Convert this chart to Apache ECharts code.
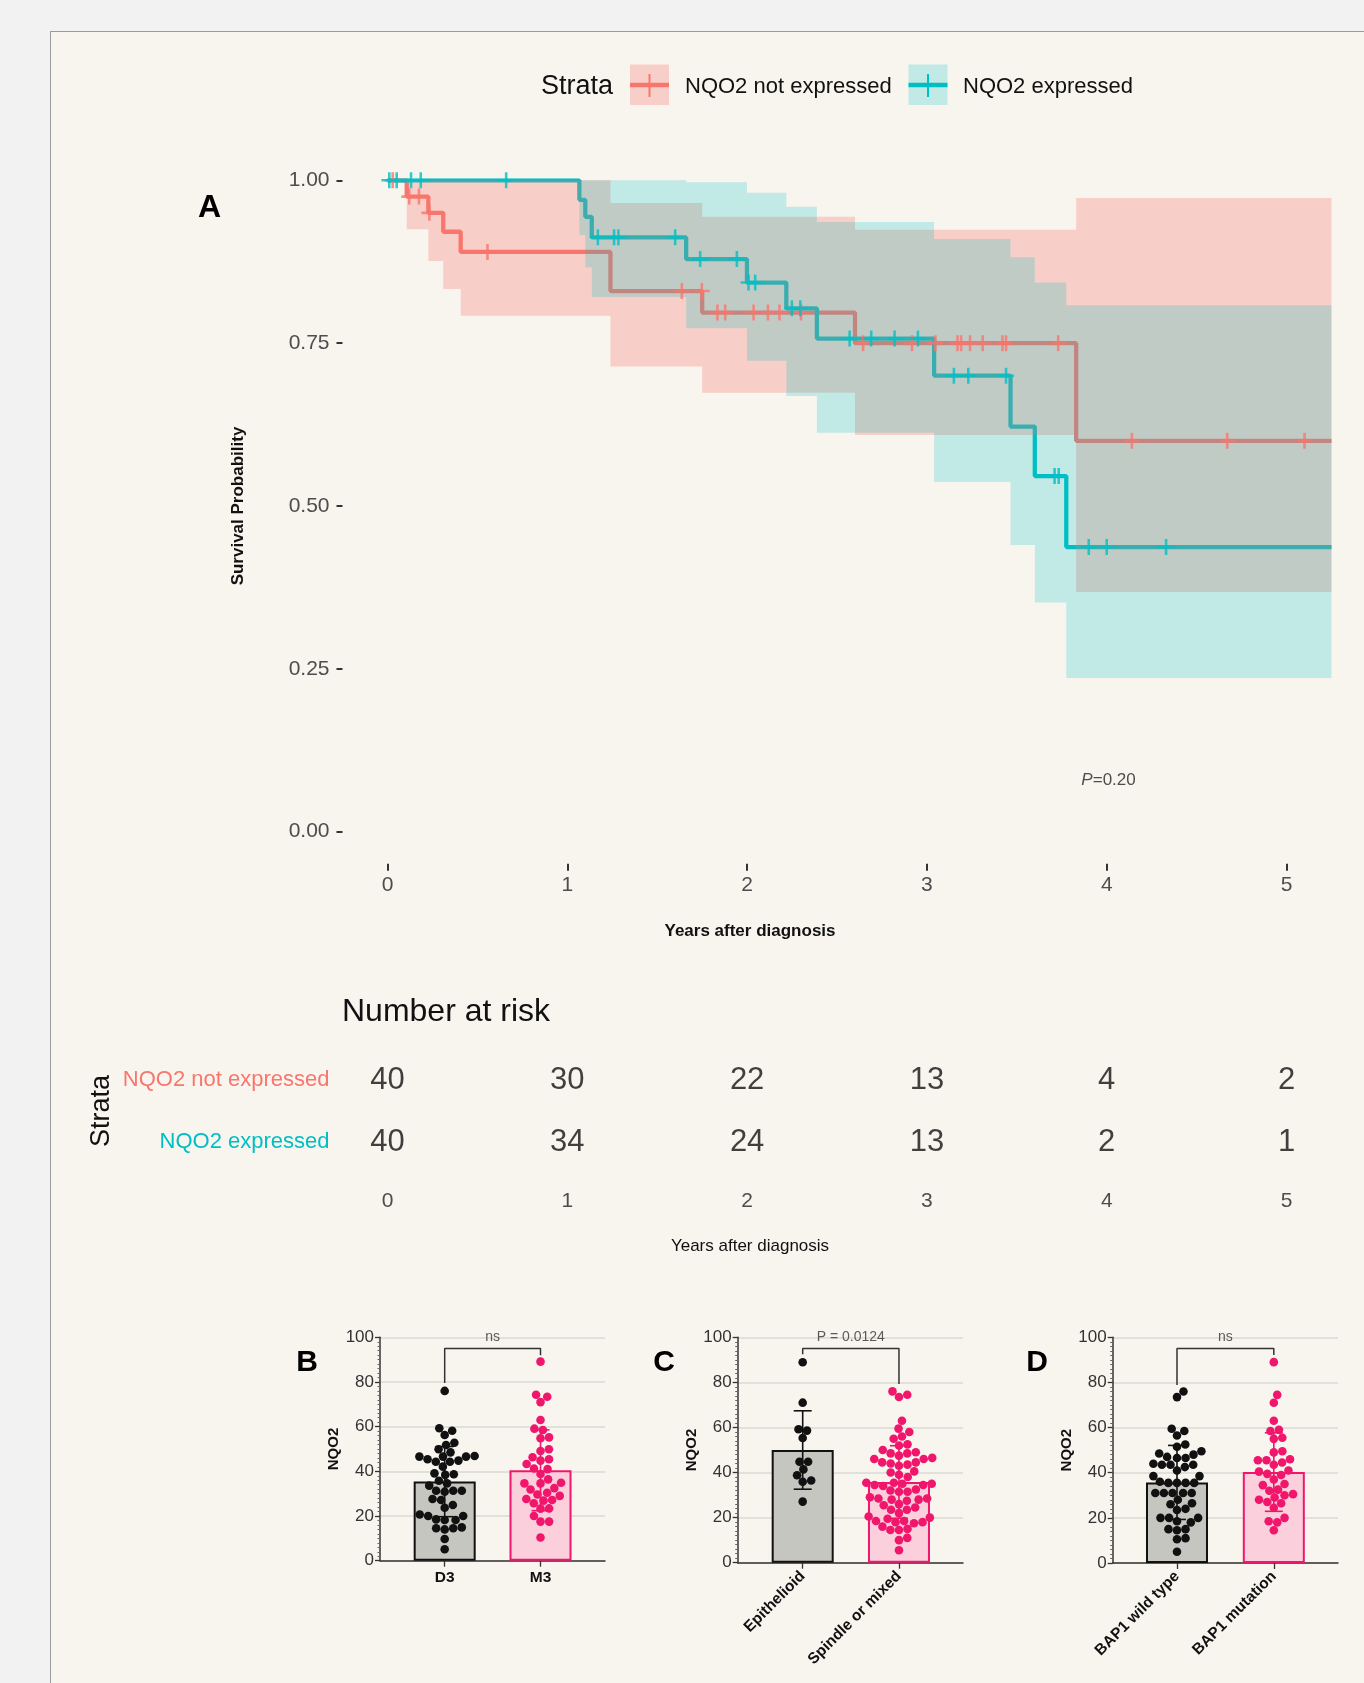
<!DOCTYPE html>
<html><head><meta charset="utf-8">
<script src="https://cdn.jsdelivr.net/npm/echarts@6/dist/echarts.min.js"></script>
<style>
html,body{margin:0;padding:0;background:#f2f2f2;width:1364px;height:1683px;overflow:hidden;}
#panel{position:absolute;left:50px;top:31px;width:1314px;height:1652px;background:#f8f5ef;border-left:1px solid #9c9c9c;border-top:1px solid #9c9c9c;box-sizing:border-box;}
#chart{position:absolute;left:0;top:0;width:1364px;height:1683px;}
</style></head><body><div id="panel"></div><div id="chart"></div>
<script>
// ---------------- DATA ----------------
const timeTicks = [0, 1, 2, 3, 4, 5];
const survTicks = [0, 0.25, 0.5, 0.75, 1];
const strata = ['NQO2 not expressed', 'NQO2 expressed'];
// Kaplan-Meier steps [time, survival]
const kmNotExpr = [[0,1],[0.107,0.975],[0.227,0.95],[0.31,0.921],[0.407,0.89],[1.24,0.83],[1.75,0.797],[2.6,0.75],[3.83,0.60],[5.25,0.60]];
const kmExpr = [[0,1],[1.067,0.97],[1.1,0.944],[1.136,0.9125],[1.661,0.879],[1.999,0.843],[2.218,0.8035],[2.388,0.757],[3.04,0.70],[3.465,0.622],[3.6,0.546],[3.775,0.437],[5.25,0.437]];
// censoring times
const censorNotExpr = [0.029,0.121,0.175,0.233,0.556,1.637,1.748,1.835,1.878,2.036,2.116,2.18,2.30,2.645,2.917,3.047,3.17,3.19,3.24,3.31,3.42,3.44,3.73,4.14,4.67,5.10];
const censorExpr = [0.01,0.051,0.131,0.185,0.66,1.17,1.26,1.284,1.60,1.739,1.943,2.008,2.045,2.249,2.296,2.57,2.69,2.82,2.95,3.15,3.23,3.44,3.71,3.733,3.90,4.0,4.33];
// confidence bands [start time, lower, upper]
const ciNotExpr = [[0.107,0.925,1],[0.227,0.876,1],[0.31,0.833,1],[0.407,0.792,1],[1.24,0.714,0.965],[1.75,0.674,0.944],[2.6,0.609,0.924],[3.83,0.368,0.973]];
const ciExpr = [[1.067,0.916,1],[1.1,0.866,1],[1.136,0.821,1],[1.661,0.773,0.997],[1.999,0.723,0.981],[2.218,0.669,0.9595],[2.388,0.6125,0.936],[3.04,0.537,0.910],[3.465,0.44,0.882],[3.6,0.352,0.843],[3.775,0.236,0.808]];
const followUpEnd = 5.25;
// number at risk
const riskNotExpr = [40, 30, 22, 13, 4, 2];
const riskExpr = [40, 34, 24, 13, 2, 1];
const pValueA = 'P=0.20';

// Panel B
const groupsB = ['D3', 'M3'];
const meanB = [35.4, 40.5];
const sdB = [15.7, 18.1];
const dotsD3 = [76,59.3,58.2,56.3,52.8,51.8,48.5,49.9,46.9,45.4,44.3,44.3,44.8,46.6,46.6,46.6,42.1,38.7,39.1,38.4,34.6,33.6,35.8,31.3,31.3,31.3,27.2,27.6,30.9,24.9,23.7,18.5,20,20,20.7,18.2,18.2,14.5,14,14.5,14.9,9.7,5.1];
const dotsM3 = [89.1,73.4,74.3,71,63,58.5,59.1,54.8,55.2,49.1,49.9,43.3,44.8,46.3,45.4,38.8,41.3,41,32.5,34.6,34.9,36.4,34.6,27.6,29,29.6,30.4,31.9,26.9,27.2,23.4,23.3,25.7,20,17.5,17.5,10.4];
const testB = 'ns';
// Panel C
const groupsC = ['Epithelioid', 'Spindle or mixed'];
const meanC = [50.0, 35.8];
const sdC = [17.4, 16.1];
const dotsEpith = [88.9,71,58.6,59.2,55.3,44.8,44.8,41.4,38.8,35.9,36.5,27.1];
const dotsSpindle = [76,74.5,73.5,63,59.5,58,56,55,52.5,52,50,49,48.5,47.5,48.5,46.5,46,44.5,44,43.5,46,44.5,43,40.5,40,38,39,35.5,35,34.5,35,34.5,35.5,34,32,31.5,31.5,32.5,29,28.5,28,27.5,28,28.5,26,25.5,24.5,23.5,23.5,22,20,20.5,19.5,18.5,18.5,18,17.5,18,16,15,14.5,14.5,11,10,5.5];
const testC = 'P = 0.0124';
// Panel D
const groupsD = ['BAP1 wild type', 'BAP1 mutation'];
const meanD = [35.7, 40.3];
const sdD = [16.4, 17.4];
const dotsWT = [76,73.5,59.5,58.5,56.5,52.5,51.5,49.5,48.5,48,47,46.5,46.5,43.5,43.5,44,43.5,42.5,41,38.5,38.5,36,35.5,35.5,35.5,35.5,31,31,31,31,31,28,26,26.5,24,23.5,18.5,20,20,20,18,15,14.5,15,10.5,11,5];
const dotsMut = [89,74.5,71,63,59,58.5,55.5,55,49.5,49,45.5,44.5,45.5,43.5,46,39,40.5,41,39.5,34.5,37,35,32.5,30.5,32,29,26.5,28,30,27,24.5,20,18,18.5,14.5];
const testD = 'ns';
const nqoTicks = [0, 20, 40, 60, 80, 100];

// ---------------- STYLE ----------------
const FONT = '"Liberation Sans", Arial, Helvetica, sans-serif';
const RED = '#F8766D', TEAL = '#00BFC4';
const RED_BAND = 'rgba(248,118,109,0.30)', TEAL_BAND = 'rgba(0,191,196,0.22)';
const PINK = '#f0166c', PINKFILL = '#fbd0dc', GREYFILL = '#c6c6c1', BLACK = '#111111';
const PLUS = 'path://M6.7,0h2.6v6.7h6.7v2.6h-6.7v6.7h-2.6v-6.7h-6.7v-2.6h6.7z';

function stepAt(km, t) { let s = km[0][1]; for (const p of km) { if (p[0] <= t) s = p[1]; else break; } return s; }
function bandPolygon(ci, end) {
  const up = [], lo = [];
  for (let i = 0; i < ci.length; i++) {
    const t0 = ci[i][0], t1 = i + 1 < ci.length ? ci[i + 1][0] : end;
    up.push([t0, ci[i][2]], [t1, ci[i][2]]);
    lo.push([t0, ci[i][1]], [t1, ci[i][1]]);
  }
  return up.concat(lo.reverse());
}
function swarm(values, pxPerX, pxPerY, diam) {
  const idx = values.map((v, i) => i).sort((a, b) => values[a] - values[b]);
  const placed = [], out = new Array(values.length);
  for (const i of idx) {
    const y = values[i] * pxPerY;
    const cands = [0];
    for (const p of placed) {
      const dy = Math.abs(p.y - y);
      if (dy < diam) { const dx = Math.sqrt(diam * diam - dy * dy); cands.push(p.x + dx, p.x - dx); }
    }
    cands.sort((a, b) => Math.abs(a) - Math.abs(b));
    let best = 0;
    for (const c of cands) {
      if (placed.every(p => (p.x - c) * (p.x - c) + (p.y - y) * (p.y - y) >= diam * diam - 1e-6)) { best = c; break; }
    }
    placed.push({ x: best, y: y });
    out[i] = best / pxPerX;
  }
  return out;
}

const chart = echarts.init(document.getElementById('chart'));
const grids = [], xAxes = [], yAxes = [], series = [];
function hiddenAxis(gi, type, min, max) { return { gridIndex: gi, type: type, min: min, max: max, show: false }; }

// ---- Panel A: KM plot area (grid 0) ----
const A = { left: 387.5, top: 180.3, width: 944, height: 651.4 };
grids.push(A);
xAxes.push(hiddenAxis(0, 'value', 0, followUpEnd));
yAxes.push(hiddenAxis(0, 'value', 0, 1));
// y-axis ticks/labels, set apart from the panel (grid 1)
grids.push({ left: A.left - 45, top: A.top, width: A.width + 45, height: A.height });
xAxes.push(hiddenAxis(1, 'value', 0, 1));
yAxes.push({ gridIndex: 1, type: 'value', min: 0, max: 1, interval: 0.25,
  axisLine: { show: false }, splitLine: { show: false },
  axisTick: { show: true, length: 6, lineStyle: { color: '#333', width: 2 } },
  axisLabel: { margin: 13, fontSize: 21, color: '#4d4d4d', fontFamily: FONT, formatter: v => v.toFixed(2) } });
// x-axis ticks/labels, set apart below the panel (grid 2)
grids.push({ left: A.left, top: A.top + 32, width: A.width, height: A.height });
xAxes.push({ gridIndex: 2, type: 'value', min: 0, max: followUpEnd,
  axisLine: { show: false }, splitLine: { show: false },
  axisTick: { show: true, length: 7, customValues: timeTicks, lineStyle: { color: '#333', width: 2 } },
  axisLabel: { customValues: timeTicks, margin: 11, fontSize: 21, color: '#4d4d4d', fontFamily: FONT } });
yAxes.push(hiddenAxis(2, 'value', 0, 1));

[[kmNotExpr, RED], [kmExpr, TEAL]].forEach(([km, col]) => {
  series.push({ type: 'line', xAxisIndex: 0, yAxisIndex: 0, step: 'end', data: km, symbol: 'none', z: 2,
    lineStyle: { color: col, width: 4.3 }, silent: true, animation: false });
});
[[ciNotExpr, RED_BAND], [ciExpr, TEAL_BAND]].forEach(([ci, fill]) => {
  const poly = bandPolygon(ci, followUpEnd);
  series.push({ type: 'custom', xAxisIndex: 0, yAxisIndex: 0, z: 3, silent: true, data: [[0, 0]], animation: false,
    renderItem: (params, api) => ({ type: 'polygon', shape: { points: poly.map(p => api.coord(p)) }, style: { fill: fill } }) });
});
[[censorNotExpr, kmNotExpr, RED], [censorExpr, kmExpr, TEAL]].forEach(([cens, km, col]) => {
  series.push({ type: 'scatter', xAxisIndex: 0, yAxisIndex: 0, z: 5, clip: false, silent: true, animation: false,
    data: cens.map(t => [t, stepAt(km, t)]), symbol: PLUS, symbolSize: 16, itemStyle: { color: col } });
});
series.push({ type: 'scatter', xAxisIndex: 0, yAxisIndex: 0, z: 6, clip: false, silent: true, animation: false,
  data: [[4.01, 0.079]], symbolSize: 1, itemStyle: { color: 'transparent' },
  label: { show: true, position: 'inside', formatter: '{i|P}{n|' + pValueA.slice(1) + '}',
    rich: { i: { fontStyle: 'italic', fontSize: 17, fontFamily: FONT, color: '#222' }, n: { fontSize: 17, fontFamily: FONT, color: '#222' } } } });

// ---- Risk table (grid 3) ----
grids.push({ left: A.left, top: 1049, width: A.width, height: 124 });
xAxes.push({ gridIndex: 3, type: 'value', min: 0, max: followUpEnd,
  axisLine: { show: false }, splitLine: { show: false }, axisTick: { show: false },
  axisLabel: { customValues: timeTicks, margin: 18, fontSize: 21, color: '#4d4d4d', fontFamily: FONT } });
yAxes.push({ gridIndex: 3, type: 'category', data: strata, inverse: true,
  axisLine: { show: false }, axisTick: { show: false }, splitLine: { show: false },
  axisLabel: { margin: 58, formatter: v => (v === strata[0] ? '{r|' + v + '}' : '{t|' + v + '}'),
    rich: { r: { color: RED, fontSize: 22, fontFamily: FONT }, t: { color: TEAL, fontSize: 22, fontFamily: FONT } } } });
[[riskNotExpr, strata[0]], [riskExpr, strata[1]]].forEach(([risk, name]) => {
  series.push({ type: 'scatter', xAxisIndex: 3, yAxisIndex: 3, clip: false, silent: true, animation: false,
    data: risk.map((n, i) => [timeTicks[i], name, n]), symbolSize: 1, itemStyle: { color: 'transparent' },
    label: { show: true, position: 'inside', formatter: p => String(p.value[2]), fontSize: 31, color: '#111', fontFamily: FONT } });
});

// ---- Panels B, C, D (grids 4-6) ----
const panels = [
  { left: 380, top: 1337.3, width: 225, height: 223.4, min: -0.675, max: 1.673, groups: groupsB, mean: meanB, sd: sdB, dots: [dotsD3, dotsM3], test: testB, bracket: [[0, 79.5], [0, 95], [1, 95], [1, 92]], rotate: 0 },
  { left: 737.7, top: 1337.3, width: 225.3, height: 225.4, min: -0.675, max: 1.665, groups: groupsC, mean: meanC, sd: sdC, dots: [dotsEpith, dotsSpindle], test: testC, bracket: [[0, 92.5], [0, 95], [1, 95], [1, 79.3]], rotate: 45 },
  { left: 1112.7, top: 1337.3, width: 225.3, height: 225.7, min: -0.664, max: 1.663, groups: groupsD, mean: meanD, sd: sdD, dots: [dotsWT, dotsMut], test: testD, bracket: [[0, 78.9], [0, 95], [1, 95], [1, 92.2]], rotate: 45 }
];
panels.forEach((pn, k) => {
  const gi = grids.length;
  grids.push({ left: pn.left, top: pn.top, width: pn.width, height: pn.height });
  xAxes.push({ gridIndex: gi, type: 'value', min: pn.min, max: pn.max,
    axisLine: { show: true, onZero: false, lineStyle: { color: '#333', width: 1.5 } }, splitLine: { show: false },
    axisTick: { show: true, length: 6, customValues: [0, 1], lineStyle: { color: '#333', width: 1.3 } },
    axisLabel: { customValues: [0, 1], formatter: v => pn.groups[Math.round(v)], rotate: pn.rotate, margin: pn.rotate ? 11 : 9,
      fontSize: 15.5, fontWeight: 'bold', color: '#111', fontFamily: FONT } });
  yAxes.push({ gridIndex: gi, type: 'value', min: 0, max: 100, interval: 20,
    name: 'NQO2', nameLocation: 'middle', nameGap: 36, nameTextStyle: { fontSize: 15, fontWeight: 'bold', color: '#111', fontFamily: FONT },
    axisLine: { show: true, onZero: false, lineStyle: { color: '#333', width: 1.5 } },
    axisTick: { show: true, length: 5, lineStyle: { color: '#333', width: 1.3 } },
    minorTick: { show: true, splitNumber: 10, length: 2.5, lineStyle: { color: '#666', width: 1 } },
    splitLine: { show: true, lineStyle: { color: '#d9d9d6', width: 1.5 } },
    axisLabel: { customValues: nqoTicks, margin: 6, fontSize: 17, color: '#333', fontFamily: FONT } });
  const cols = [BLACK, PINK], fills = [GREYFILL, PINKFILL];
  series.push({ type: 'bar', xAxisIndex: gi, yAxisIndex: gi, barWidth: 62, z: 2, silent: true, animation: false,
    data: pn.mean.map((m, i) => ({ value: [i, m], itemStyle: { color: fills[i], borderColor: cols[i], borderWidth: 2 } })) });
  series.push({ type: 'custom', xAxisIndex: gi, yAxisIndex: gi, z: 3, silent: true, animation: false,
    data: pn.mean.map((m, i) => [i, m - pn.sd[i], m + pn.sd[i]]),
    renderItem: (params, api) => {
      const x = api.value(0), a = api.coord([x, api.value(1)]), b = api.coord([x, api.value(2)]);
      const st = { stroke: cols[params.dataIndex], lineWidth: 1.6 }, w = 9;
      return { type: 'group', children: [
        { type: 'line', shape: { x1: a[0], y1: a[1], x2: b[0], y2: b[1] }, style: st },
        { type: 'line', shape: { x1: a[0] - w, y1: a[1], x2: a[0] + w, y2: a[1] }, style: st },
        { type: 'line', shape: { x1: b[0] - w, y1: b[1], x2: b[0] + w, y2: b[1] }, style: st }] };
    } });
  const pxX = pn.width / (pn.max - pn.min), pxY = pn.height / 100;
  pn.dots.forEach((vals, g) => {
    const off = swarm(vals, pxX, pxY, 8.6);
    series.push({ type: 'scatter', xAxisIndex: gi, yAxisIndex: gi, z: 4, clip: false, silent: true, animation: false,
      data: vals.map((v, i) => [g + off[i], v]), symbolSize: 8.6, itemStyle: { color: cols[g], opacity: 1 } });
  });
  series.push({ type: 'line', xAxisIndex: gi, yAxisIndex: gi, z: 3, data: pn.bracket, symbol: 'none', silent: true, animation: false,
    lineStyle: { color: '#333', width: 1.5 } });
  series.push({ type: 'scatter', xAxisIndex: gi, yAxisIndex: gi, z: 6, clip: false, silent: true, animation: false,
    data: [[0.5, 100]], symbolSize: 1, itemStyle: { color: 'transparent' },
    label: { show: true, position: 'inside', formatter: pn.test, fontSize: 14, color: '#333', fontFamily: FONT } });
});

// ---- texts & legend ----
function txt(text, x, y, size, opts) {
  opts = opts || {};
  return { type: 'text', x: x, y: y, rotation: opts.rot || 0, z: 100,
    style: { text: text, fontSize: size, fontFamily: FONT, fontWeight: opts.bold ? 'bold' : 'normal', fill: opts.color || '#111',
      align: opts.align || 'center', textAlign: opts.align || 'center', verticalAlign: 'middle', textVerticalAlign: 'middle' } };
}
function legendKey(x, fill, col) {
  return [
    { type: 'rect', shape: { x: x, y: 64.5, width: 39, height: 40.5 }, style: { fill: fill }, z: 100 },
    { type: 'line', shape: { x1: x, y1: 85, x2: x + 39, y2: 85 }, style: { stroke: col, lineWidth: 4.5 }, z: 101 },
    { type: 'line', shape: { x1: x + 19.5, y1: 74, x2: x + 19.5, y2: 97 }, style: { stroke: col, lineWidth: 2 }, z: 101 }
  ];
}
const graphics = [
  txt('Strata', 577, 87, 27),
  ...legendKey(630, RED_BAND, RED),
  txt(strata[0], 685, 87, 22, { align: 'left' }),
  ...legendKey(908.5, TEAL_BAND, TEAL),
  txt(strata[1], 963, 87, 22, { align: 'left' }),
  txt('A', 209.5, 208, 32, { bold: true, color: '#000' }),
  txt('Survival Probability', 238, 506, 17, { bold: true, rot: Math.PI / 2 }),
  txt('Years after diagnosis', 750, 931, 17, { bold: true }),
  txt('Number at risk', 342, 1012, 32, { align: 'left' }),
  txt('Strata', 101.3, 1111, 27, { rot: Math.PI / 2 }),
  txt('Years after diagnosis', 750, 1246, 17),
  txt('B', 307, 1362.5, 30, { bold: true, color: '#000' }),
  txt('C', 664, 1362.5, 30, { bold: true, color: '#000' }),
  txt('D', 1037, 1362.5, 30, { bold: true, color: '#000' })
];

chart.setOption({
  backgroundColor: 'transparent',
  animation: false,
  textStyle: { fontFamily: FONT },
  grid: grids, xAxis: xAxes, yAxis: yAxes, series: series,
  graphic: { elements: graphics }
});
</script></body></html>
